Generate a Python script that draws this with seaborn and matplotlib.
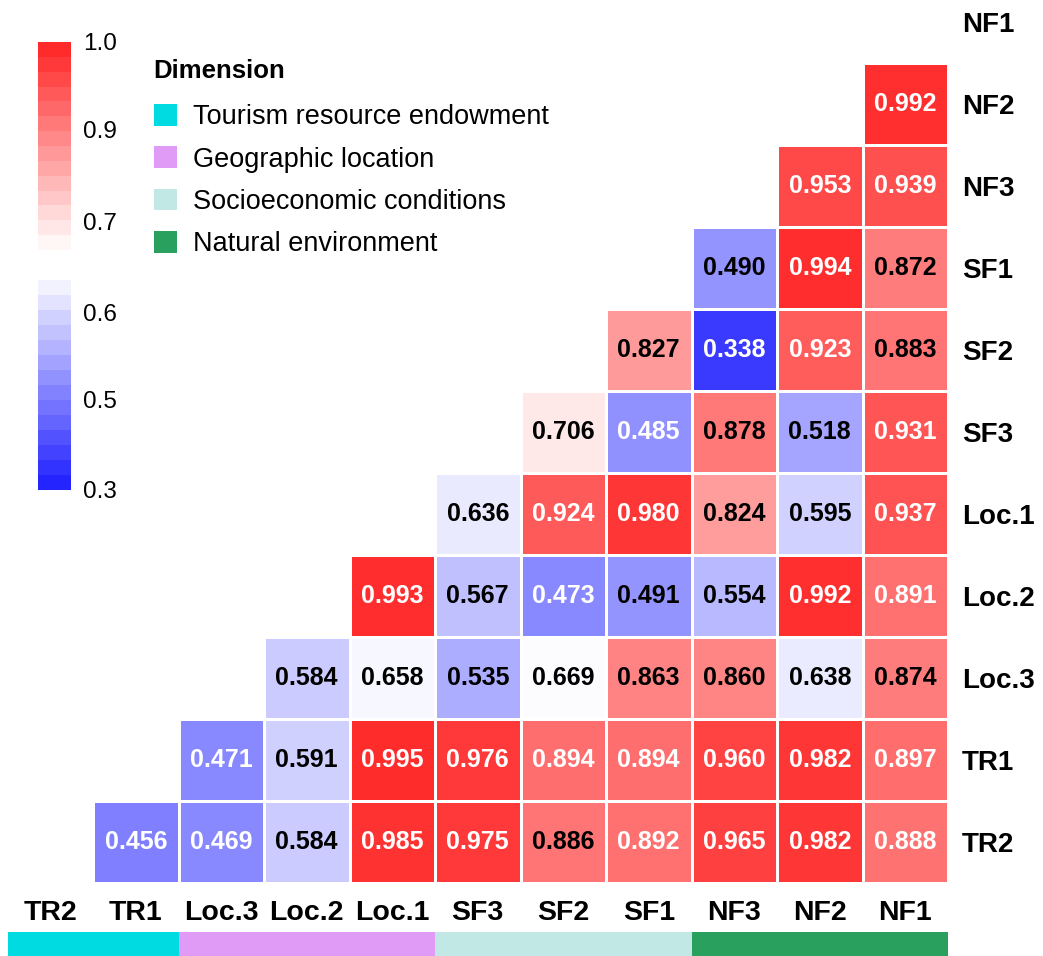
"""
Correlation heatmap of tourism factors, upper-right triangle with dimension strip
"""
import numpy as np
import pandas as pd
import matplotlib
matplotlib.use('Agg')
import matplotlib.pyplot as plt
import seaborn as sns
from matplotlib.colors import LinearSegmentedColormap, TwoSlopeNorm
from matplotlib.patches import Patch

row_labels = ['NF1', 'NF2', 'NF3', 'SF1', 'SF2', 'SF3', 'Loc.1', 'Loc.2', 'Loc.3', 'TR1', 'TR2']
col_labels = ['TR2', 'TR1', 'Loc.3', 'Loc.2', 'Loc.1', 'SF3', 'SF2', 'SF1', 'NF3', 'NF2', 'NF1']

# every row is filled from the right-hand side
nf1 = []
nf2 = [0.992]
nf3 = [0.953, 0.939]
sf1 = [0.490, 0.994, 0.872]
sf2 = [0.827, 0.338, 0.923, 0.883]
sf3 = [0.706, 0.485, 0.878, 0.518, 0.931]
loc1 = [0.636, 0.924, 0.980, 0.824, 0.595, 0.937]
loc2 = [0.993, 0.567, 0.473, 0.491, 0.554, 0.992, 0.891]
loc3 = [0.584, 0.658, 0.535, 0.669, 0.863, 0.860, 0.638, 0.874]
tr1 = [0.471, 0.591, 0.995, 0.976, 0.894, 0.894, 0.960, 0.982, 0.897]
tr2 = [0.456, 0.469, 0.584, 0.985, 0.975, 0.886, 0.892, 0.965, 0.982, 0.888]

dimension_names = ['Tourism resource endowment', 'Geographic location',
                   'Socioeconomic conditions', 'Natural environment']
dimension_colors = ['#00dbe2', '#df9bf6', '#c1e8e4', '#2aa05f']
col_dimension = [0, 0, 1, 1, 1, 2, 2, 2, 3, 3, 3]

cbar_upper_labels = ['1.0', '0.9', '0.7']
cbar_lower_labels = ['0.6', '0.5', '0.3']

# build matrix
rows = [nf1, nf2, nf3, sf1, sf2, sf3, loc1, loc2, loc3, tr1, tr2]
n = len(col_labels)
mat = np.full((len(rows), n), np.nan)
for i, r in enumerate(rows):
    if r:
        mat[i, n - len(r):] = r
df = pd.DataFrame(mat, index=row_labels, columns=col_labels)

sns.set_style('white')
plt.rcParams['font.family'] = ['Liberation Sans', 'DejaVu Sans']
plt.rcParams['text.color'] = 'black'
plt.rcParams['xtick.color'] = 'black'
plt.rcParams['ytick.color'] = 'black'

cmap = LinearSegmentedColormap.from_list('bwr2', ['#2424ff', '#ffffff', '#ff2a2a'])
norm = TwoSlopeNorm(vmin=0.3, vcenter=0.672, vmax=1.0)

W, H = 1043, 956
fig = plt.figure(figsize=(W / 100, H / 100), dpi=100)

def px(x0, y0, x1, y1):
    # pixel box (top-left origin) -> figure fraction rect
    return [x0 / W, 1 - y1 / H, (x1 - x0) / W, (y1 - y0) / H]

ax = fig.add_axes(px(7.5, -19, 948, 883))
sns.heatmap(df, ax=ax, cmap=cmap, norm=norm, cbar=False, mask=df.isna(),
            linewidths=2, linecolor='white', annot=True, fmt='.3f',
            annot_kws={'fontsize': 18, 'fontweight': 'bold'})
for t in ax.texts:
    v = float(t.get_text())
    t.set_color('white' if (v > 0.8865 or v < 0.488) else 'black')

ax.yaxis.tick_right()
ax.set_yticklabels(row_labels, rotation=0, ha='left', fontsize=20, fontweight='bold')
ax.set_xticklabels(col_labels, rotation=0, fontsize=20.5, fontweight='bold')
ax.tick_params(axis='both', length=0)
ax.tick_params(axis='y', pad=10)
ax.tick_params(axis='x', pad=12)
ax.set_xlabel('')
ax.set_ylabel('')

# dimension strip under the column labels
ax_strip = fig.add_axes(px(7.5, 932, 948, 956))
ax_strip.bar(np.arange(n), 1, width=1.0, linewidth=0,
             color=[dimension_colors[d] for d in col_dimension])
ax_strip.set_xlim(-0.5, n - 0.5)
ax_strip.set_ylim(0, 1)
ax_strip.axis('off')

# split colour bar
steps = 14
ax_cb1 = fig.add_axes(px(38, 42, 71, 250))
up_vals = np.linspace(0.685, 1.0, steps)
ax_cb1.pcolormesh([0, 1], np.linspace(0, 1, steps + 1), up_vals[:, None], cmap=cmap, norm=norm)
ax_cb1.set_yticks([1.0, 0.577, 0.135])
ax_cb1.set_yticklabels(cbar_upper_labels)

ax_cb2 = fig.add_axes(px(38, 280, 71, 490))
low_vals = np.linspace(0.3, 0.65, steps)
ax_cb2.pcolormesh([0, 1], np.linspace(0, 1, steps + 1), low_vals[:, None], cmap=cmap, norm=norm)
ax_cb2.set_yticks([0.843, 0.43, 0.0])
ax_cb2.set_yticklabels(cbar_lower_labels)

for a in (ax_cb1, ax_cb2):
    a.set_xlim(0, 1)
    a.set_ylim(0, 1)
    a.set_xticks([])
    a.yaxis.tick_right()
    a.tick_params(axis='y', length=0, pad=9, labelsize=17.5)
    for s in a.spines.values():
        s.set_visible(False)

# legend
fig.text(153 / W, 1 - 71 / H, 'Dimension', fontsize=18.5, fontweight='bold',
         ha='left', va='center')
handles = [Patch(facecolor=c, edgecolor='none') for c in dimension_colors]
fig.legend(handles, dimension_names, loc='upper left',
           bbox_to_anchor=(154 / W, 1 - 104 / H), frameon=False,
           fontsize=19.5, handlelength=0.85, handleheight=0.85, handletextpad=0.6,
           labelspacing=0.6, borderpad=0, borderaxespad=0)

plt.savefig('out.png', dpi=100)
